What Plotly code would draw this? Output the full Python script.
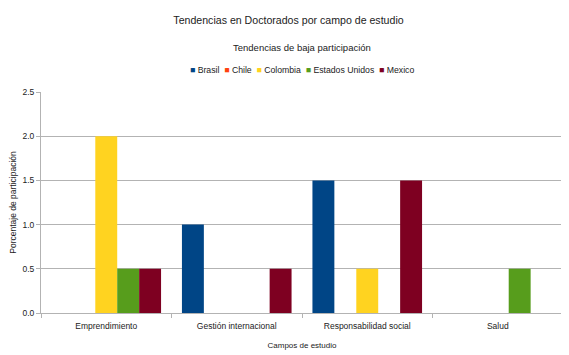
import plotly.graph_objects as go

categories = ["Emprendimiento", "Gestión internacional", "Responsabilidad social", "Salud"]
brasil = [0, 1.0, 1.5, 0]
chile = [0, 0, 0, 0]
colombia = [2.0, 0, 0.5, 0]
estados_unidos = [0.5, 0, 0, 0.5]
mexico = [0.5, 0.5, 1.5, 0]
y_ticks = [0.0, 0.5, 1.0, 1.5, 2.0, 2.5]

series = [
    ("Brasil", brasil, "#004586"),
    ("Chile", chile, "#ff420e"),
    ("Colombia", colombia, "#ffd320"),
    ("Estados Unidos", estados_unidos, "#579d1c"),
    ("Mexico", mexico, "#7e0021"),
]

# page body has an 8px default margin; size the figure to fit the window
OFF = 8
W, H = 569 - OFF, 355 - OFF
ML, MR, MT, MB = 41 - OFF, 6, 92 - OFF, 42
plot_h = H - MT - MB

def paper_y(page_px):
    return (H - MB - (page_px - OFF)) / plot_h

fig = go.Figure()
for name, vals, col in series:
    fig.add_trace(go.Bar(x=categories, y=vals, name=name, showlegend=False,
                         marker=dict(color=col, line=dict(width=0))))

legend_text = "&nbsp;&nbsp;".join(
    f'<span style="color:{col}">■</span> {name}' for name, _, col in series
)

font = "Liberation Sans, Arial, sans-serif"
fig.update_layout(
    width=W, height=H,
    margin=dict(l=ML, r=MR, t=MT, b=MB, autoexpand=False),
    paper_bgcolor="white", plot_bgcolor="white",
    barmode="group", bargap=0.16, bargroupgap=0,
    font=dict(family=font, size=9, color="#333333"),
    showlegend=False,
    title=dict(text="Tendencias en Doctorados por campo de estudio", x=0.5, xanchor="center",
               y=1 - (20 - OFF)/H, yanchor="middle", yref="container",
               font=dict(size=10.6, color="#222222", family=font)),
    annotations=[
        dict(text="Tendencias de baja participación", x=0.5, xref="paper",
             y=paper_y(47), yref="paper", yanchor="middle", showarrow=False,
             font=dict(size=9.5, color="#222222", family=font)),
        dict(text=legend_text, x=0.5, xref="paper",
             y=paper_y(70), yref="paper", yanchor="middle", showarrow=False,
             font=dict(size=8.7, color="#222222", family=font)),
    ],
    xaxis=dict(showline=True, linecolor="#b3b3b3", linewidth=1, ticks="outside",
               tickson="boundaries", ticklen=4, tickcolor="#b3b3b3",
               ticklabelstandoff=5,
               tickfont=dict(size=8.5, color="#222222"),
               title=dict(text="Campos de estudio", font=dict(size=8, color="#222222"), standoff=12)),
    yaxis=dict(range=[0, 2.5], tickvals=y_ticks, tickformat=".1f", showline=True,
               linecolor="#b3b3b3", linewidth=1, gridcolor="#b3b3b3", gridwidth=1,
               ticks="outside", ticklen=4, tickcolor="#b3b3b3", zeroline=False,
               tickfont=dict(size=8.5, color="#222222"),
               title=dict(text="Porcentaje de participación", font=dict(size=8.5, color="#222222"), standoff=15)),
)

fig.write_html("out.html")
